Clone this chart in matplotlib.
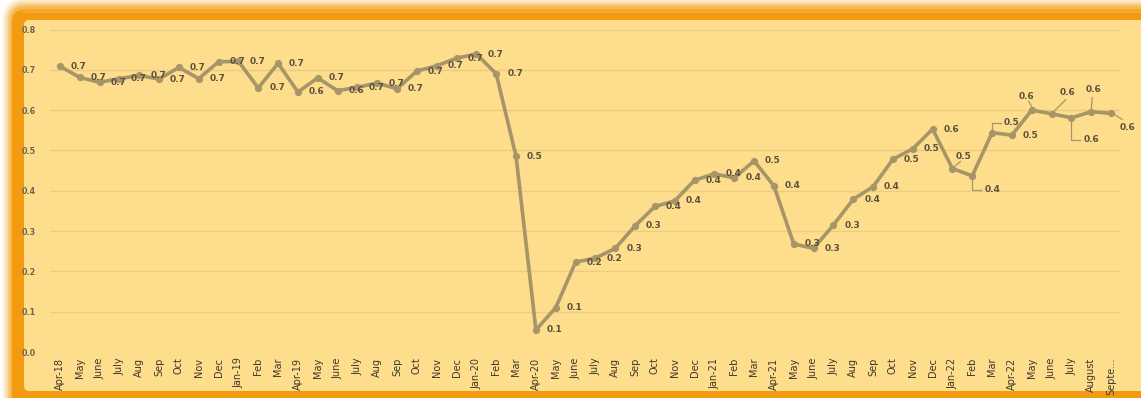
import matplotlib
matplotlib.use("Agg")
import matplotlib.pyplot as plt
from matplotlib.patches import FancyBboxPatch
from matplotlib.lines import Line2D
from matplotlib.transforms import IdentityTransform

months = ["Apr-18", "May", "June", "July", "Aug", "Sep", "Oct", "Nov", "Dec",
          "Jan-19", "Feb", "Mar", "Apr-19", "May", "June", "July", "Aug", "Sep",
          "Oct", "Nov", "Dec", "Jan-20", "Feb", "Mar", "Apr-20", "May", "June",
          "July", "Aug", "Sep", "Oct", "Nov", "Dec", "Jan-21", "Feb", "Mar",
          "Apr-21", "May", "June", "July", "Aug", "Sep", "Oct", "Nov", "Dec",
          "Jan-22", "Feb", "Mar", "Apr-22", "May", "June", "July", "August", "Septe..."]

values = [0.709, 0.681, 0.669, 0.678, 0.686, 0.677, 0.706, 0.678, 0.720,
          0.721, 0.655, 0.716, 0.645, 0.680, 0.648, 0.657, 0.667, 0.653,
          0.697, 0.710, 0.729, 0.739, 0.690, 0.485, 0.055, 0.110, 0.223,
          0.233, 0.257, 0.313, 0.361, 0.375, 0.426, 0.442, 0.432, 0.474,
          0.412, 0.268, 0.257, 0.315, 0.379, 0.410, 0.478, 0.504, 0.553,
          0.455, 0.437, 0.544, 0.538, 0.600, 0.591, 0.581, 0.596, 0.592]

y_ticks = [0.0, 0.1, 0.2, 0.3, 0.4, 0.5, 0.6, 0.7, 0.8]

W, H = 1141, 398
fig = plt.figure(figsize=(W / 100, H / 100), dpi=100)
fig.patch.set_facecolor("white")

def px_rect(x0, y0, x1, y1, color, r=0, alpha=1.0, z=0):
    # coordinates in top-down pixels
    p = FancyBboxPatch((x0, H - y1), x1 - x0, y1 - y0,
                       boxstyle=f"round,pad=0,rounding_size={r}" if r > 0 else "square,pad=0",
                       transform=IdentityTransform(), facecolor=color,
                       edgecolor="none", alpha=alpha, zorder=z)
    fig.patches.append(p)

# soft glow around the frame
for i, a in enumerate([0.10, 0.15, 0.22, 0.32, 0.45]):
    d = 10 - 2 * i
    px_rect(12 - d, 8 - d, 1200, 440, "#F5A623", r=14 + d, alpha=a, z=0)
# orange frame
px_rect(12, 9, 1200, 440, "#F29B10", r=14, z=1)
px_rect(18, 9, 1200, 13, "#F6B040", r=6, alpha=0.6, z=1)
# inner yellow panel
px_rect(24, 20, 1160, 391, "#FEDD8C", r=5, z=2)

ax = fig.add_axes([50 / W, 1 - 352 / H, (1121 - 50) / W, (352 - 29.5) / H])
ax.set_facecolor("none")
ax.set_zorder(3)

x = list(range(len(values)))
line_color = "#A69567"
ax.plot(x, values, color=line_color, lw=2.6, marker="o", markersize=4.2,
        markerfacecolor=line_color, markeredgecolor=line_color, zorder=3,
        solid_joinstyle="round")

ax.set_xlim(-0.5, len(values) - 0.5)
ax.set_ylim(0, 0.8)
ax.set_yticks(y_ticks)
ax.set_yticklabels([f"{v:.1f}" for v in y_ticks])
ax.grid(axis="y", color="#EACB80", lw=1.0)
ax.set_axisbelow(True)
for s in ax.spines.values():
    s.set_visible(False)

narrow = ["Liberation Sans Narrow", "DejaVu Sans"]
ax.set_xticks(x)
ax.set_xticklabels(months, rotation=90, fontsize=7.0, color="#3F3828",
                   family=narrow)
ax.tick_params(axis="x", length=0, pad=4)
ax.tick_params(axis="y", length=0, pad=10, labelsize=5.8, labelcolor="#6E6652")
for t in ax.get_yticklabels():
    t.set_fontweight("bold")

label_kw = dict(fontsize=6.5, fontweight="bold", color="#5A523E",
                textcoords="offset pixels", zorder=4)

# special label placements: index -> (dx, dy, ha, leader polyline in pixel offsets)
special = {
    45: (11, 12, "center", [(2, 2), (8, 7)]),
    46: (12, -14, "left", [(0, -3), (0, -14), (9, -14)]),
    47: (12, 10, "left", [(0, 3), (0, 10), (9, 10)]),
    49: (-5, 14, "center", [(0, 3), (-3, 9)]),
    50: (16, 21, "center", [(2, 2), (14, 14)]),
    51: (12, -22, "left", [(0, -3), (0, -22), (9, -22)]),
    52: (2, 22, "center", [(0, 3), (1, 14)]),
    53: (16, -14, "center", [(3, -1), (11, -6)]),
}

fig.canvas.draw()
to_px = ax.transData
for i, v in enumerate(values):
    txt = f"{v:.1f}"
    if i in special:
        dx, dy, ha, path = special[i]
        ax.annotate(txt, (i, v), xytext=(dx, dy), ha=ha, va="center", **label_kw)
        px, py = to_px.transform((i, v))
        xs = [px + p[0] for p in path]
        ys = [py + p[1] for p in path]
        fig.lines.append(Line2D(xs, ys, transform=IdentityTransform(),
                                color=line_color, lw=0.9, zorder=5))
    else:
        ax.annotate(txt, (i, v), xytext=(11, 0), ha="left", va="center", **label_kw)

fig.savefig("out.png", dpi=100, facecolor=fig.get_facecolor())
